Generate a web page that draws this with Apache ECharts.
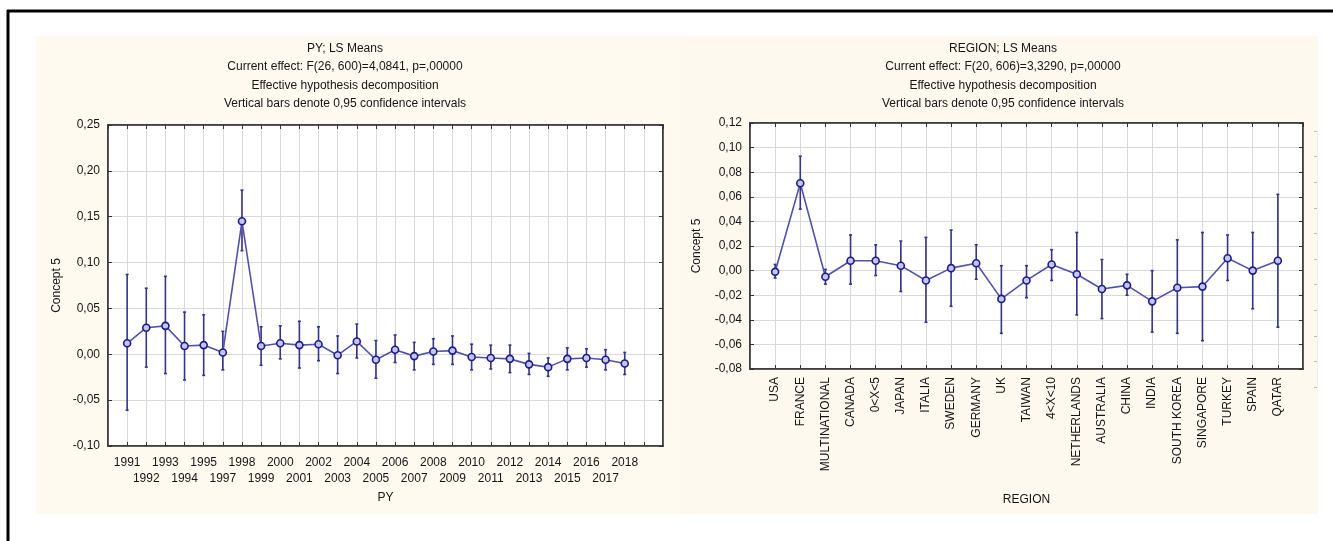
<!DOCTYPE html>
<html>
<head>
<meta charset="utf-8">
<script src="https://cdn.jsdelivr.net/npm/echarts@6/dist/echarts.min.js"></script>
<style>
  html, body { margin: 0; padding: 0; background: #ffffff; }
  #chart { width: 1333px; height: 541px; }
</style>
</head>
<body>
<div id="chart"></div>
<script>
// LS means of Concept 5 by publication year (1996 absent from the design)
const years = ['1991','1992','1993','1994','1995','1997','1998','1999','2000','2001','2002','2003','2004',
  '2005','2006','2007','2008','2009','2010','2011','2012','2013','2014','2015','2016','2017','2018'];
const pyMean = [0.012, 0.029, 0.031, 0.009, 0.010, 0.002, 0.145, 0.009, 0.012, 0.010, 0.011, -0.001, 0.014,
  -0.006, 0.005, -0.002, 0.003, 0.004, -0.003, -0.004, -0.005, -0.011, -0.014, -0.005, -0.004, -0.006, -0.010];
const pyLow  = [-0.061, -0.014, -0.021, -0.028, -0.023, -0.017, 0.113, -0.012, -0.005, -0.015, -0.007, -0.021, -0.004,
  -0.026, -0.009, -0.017, -0.011, -0.011, -0.017, -0.016, -0.020, -0.022, -0.024, -0.017, -0.014, -0.017, -0.022];
const pyHigh = [0.087, 0.072, 0.085, 0.046, 0.043, 0.025, 0.179, 0.030, 0.031, 0.036, 0.030, 0.020, 0.033,
  0.015, 0.021, 0.013, 0.017, 0.020, 0.011, 0.010, 0.010, 0.001, -0.004, 0.007, 0.006, 0.005, 0.002];
const pyTicks = ['0,25', '0,20', '0,15', '0,10', '0,05', '0,00', '-0,05', '-0,10'];

// LS means of Concept 5 by region
const regions = ['USA','FRANCE','MULTINATIONAL','CANADA','0<X<5','JAPAN','ITALIA','SWEDEN','GERMANY','UK',
  'TAIWAN','4<X<10','NETHERLANDS','AUSTRALIA','CHINA','INDIA','SOUTH KOREA','SINGAPORE','TURKEY','SPAIN','QATAR'];
const regMean = [-0.001, 0.071, -0.005, 0.008, 0.008, 0.004, -0.008, 0.002, 0.006, -0.023,
  -0.008, 0.005, -0.003, -0.015, -0.012, -0.025, -0.014, -0.013, 0.010, 0.000, 0.008];
const regLow  = [-0.006, 0.050, -0.011, -0.011, -0.004, -0.017, -0.042, -0.029, -0.007, -0.051,
  -0.022, -0.008, -0.036, -0.039, -0.020, -0.050, -0.051, -0.057, -0.008, -0.031, -0.046];
const regHigh = [0.005, 0.093, 0.001, 0.029, 0.021, 0.024, 0.027, 0.033, 0.021, 0.004,
  0.004, 0.017, 0.031, 0.009, -0.003, 0.000, 0.025, 0.031, 0.029, 0.031, 0.062];
const regTicks = ['0,12', '0,10', '0,08', '0,06', '0,04', '0,02', '0,00', '-0,02', '-0,04', '-0,06', '-0,08'];

const FONT = '"Liberation Sans", Arial, sans-serif';
const TEXT = '#151515';
const LINE = '#5252ad';
const BAR = '#34348a';
const DOT = '#1c1c86';

function pairs(means) { return means.map((m, i) => [i + 1, m]); }
function bars(lows, highs) { return lows.map((l, i) => [i + 1, l, highs[i]]); }

function errorBarSeries(xi, yi, data) {
  return {
    type: 'custom', xAxisIndex: xi, yAxisIndex: yi, data: data, z: 3, silent: true,
    renderItem: function (params, api) {
      const x = api.value(0);
      const lo = api.coord([x, api.value(1)]);
      const hi = api.coord([x, api.value(2)]);
      const style = { stroke: BAR, lineWidth: 1.6 };
      return {
        type: 'group', children: [
          { type: 'line', shape: { x1: lo[0], y1: lo[1], x2: hi[0], y2: hi[1] }, style: style },
          { type: 'line', shape: { x1: lo[0] - 1.5, y1: lo[1], x2: lo[0] + 1.5, y2: lo[1] }, style: style },
          { type: 'line', shape: { x1: hi[0] - 1.5, y1: hi[1], x2: hi[0] + 1.5, y2: hi[1] }, style: style }
        ]
      };
    }
  };
}

function meanSeries(xi, yi, data) {
  return {
    type: 'line', xAxisIndex: xi, yAxisIndex: yi, data: data, z: 4, silent: true,
    symbol: 'circle', symbolSize: 7,
    lineStyle: { color: LINE, width: 1.6 },
    itemStyle: { color: '#c4c4ee', borderColor: DOT, borderWidth: 1.6 }
  };
}

const tickInside = { show: true, inside: true, length: 4, lineStyle: { color: '#333', width: 1 } };
const frameLine = { show: true, onZero: false, lineStyle: { color: '#333', width: 1.5 } };
const gridLine = { show: true, lineStyle: { color: '#d9d9d9', width: 1 } };
const labelText = { color: TEXT, fontSize: 12, fontFamily: FONT };

const chart = echarts.init(document.getElementById('chart'), null, { renderer: 'canvas' });

chart.setOption({
  animation: false,
  backgroundColor: '#ffffff',
  textStyle: { fontFamily: FONT },
  graphic: [
    { type: 'rect', z: -10, shape: { x: 36, y: 36, width: 644, height: 478 }, style: { fill: '#fffaef' } },
    { type: 'rect', z: -10, shape: { x: 680, y: 36, width: 638, height: 478 }, style: { fill: '#fef9ee' } },
    { type: 'line', z: -5, shape: { x1: 7, y1: 11, x2: 1333, y2: 11 }, style: { stroke: '#000', lineWidth: 3 } },
    { type: 'line', z: -5, shape: { x1: 8, y1: 10, x2: 8, y2: 541 }, style: { stroke: '#000', lineWidth: 3 } },
    { type: 'text', x: 345, y: 39, style: {
        text: 'PY; LS Means\nCurrent effect: F(26, 600)=4,0841, p=,00000\nEffective hypothesis decomposition\nVertical bars denote 0,95 confidence intervals',
        align: 'center', fill: TEXT, font: '12px ' + FONT, lineHeight: 18.5 } },
    { type: 'text', x: 1003, y: 39, style: {
        text: 'REGION; LS Means\nCurrent effect: F(20, 606)=3,3290, p=,00000\nEffective hypothesis decomposition\nVertical bars denote 0,95 confidence intervals',
        align: 'center', fill: TEXT, font: '12px ' + FONT, lineHeight: 18.5 } }
  ],
  grid: [
    { left: 108, top: 125, width: 555, height: 321, show: true, backgroundColor: '#ffffff', borderColor: '#333', borderWidth: 1.5 },
    { left: 750, top: 123, width: 553, height: 246, show: true, backgroundColor: '#ffffff', borderColor: '#333', borderWidth: 1.5 },
    { left: 1317, top: 131, width: 1, height: 256, show: false }
  ],
  xAxis: [
    { type: 'value', gridIndex: 0, min: 0, max: 29, interval: 1, position: 'bottom',
      axisLine: frameLine, axisTick: tickInside, splitLine: gridLine,
      axisLabel: Object.assign({}, labelText, {
        margin: 9, lineHeight: 16, hideOverlap: false, showMinLabel: false, showMaxLabel: false,
        formatter: function (v) {
          const i = Math.round(v) - 1;
          if (i < 0 || i >= years.length) return '';
          return i % 2 === 0 ? years[i] : '\n' + years[i];
        }
      }),
      name: 'PY', nameLocation: 'middle', nameGap: 41, nameTextStyle: labelText },
    { type: 'value', gridIndex: 0, min: 0, max: 29, interval: 1, position: 'top',
      axisLine: frameLine, axisTick: tickInside, splitLine: { show: false }, axisLabel: { show: false } },
    { type: 'value', gridIndex: 1, min: 0, max: 22, interval: 1, position: 'bottom',
      axisLine: frameLine, axisTick: tickInside, splitLine: gridLine,
      axisLabel: Object.assign({}, labelText, {
        margin: 8, rotate: 90, hideOverlap: false, showMinLabel: false, showMaxLabel: false,
        formatter: function (v) {
          const i = Math.round(v) - 1;
          return (i < 0 || i >= regions.length) ? '' : regions[i];
        }
      }),
      name: 'REGION', nameLocation: 'middle', nameGap: 125, nameTextStyle: labelText },
    { type: 'value', gridIndex: 1, min: 0, max: 22, interval: 1, position: 'top',
      axisLine: frameLine, axisTick: tickInside, splitLine: { show: false }, axisLabel: { show: false } },
    { type: 'value', gridIndex: 2, min: 0, max: 1, show: false }
  ],
  yAxis: [
    { type: 'value', gridIndex: 0, min: -0.10, max: 0.25, interval: 0.05, position: 'left',
      axisLine: frameLine, axisTick: tickInside, splitLine: gridLine,
      axisLabel: Object.assign({}, labelText, { margin: 8,
        formatter: function (v) { return pyTicks[Math.round((0.25 - v) / 0.05)]; } }),
      name: 'Concept 5', nameLocation: 'middle', nameGap: 45, nameRotate: 90, nameTextStyle: labelText },
    { type: 'value', gridIndex: 0, min: -0.10, max: 0.25, interval: 0.05, position: 'right',
      axisLine: frameLine, axisTick: tickInside, splitLine: { show: false }, axisLabel: { show: false } },
    { type: 'value', gridIndex: 1, min: -0.08, max: 0.12, interval: 0.02, position: 'left',
      axisLine: frameLine, axisTick: tickInside, splitLine: gridLine,
      axisLabel: Object.assign({}, labelText, { margin: 8,
        formatter: function (v) { return regTicks[Math.round((0.12 - v) / 0.02)]; } }),
      name: 'Concept 5', nameLocation: 'middle', nameGap: 47, nameRotate: 90, nameTextStyle: labelText },
    { type: 'value', gridIndex: 1, min: -0.08, max: 0.12, interval: 0.02, position: 'right',
      axisLine: frameLine, axisTick: tickInside, splitLine: { show: false }, axisLabel: { show: false } },
    { type: 'value', gridIndex: 2, min: 0, max: 10, interval: 1, position: 'left',
      axisLine: { show: true, onZero: false, lineStyle: { color: '#eeeeee', width: 1 } },
      axisTick: { show: true, length: 3, lineStyle: { color: '#bbbbbb', width: 1 } },
      axisLabel: { show: false }, splitLine: { show: false } }
  ],
  series: [
    errorBarSeries(0, 0, bars(pyLow, pyHigh)),
    meanSeries(0, 0, pairs(pyMean)),
    errorBarSeries(2, 2, bars(regLow, regHigh)),
    meanSeries(2, 2, pairs(regMean))
  ]
});
</script>
</body>
</html>
